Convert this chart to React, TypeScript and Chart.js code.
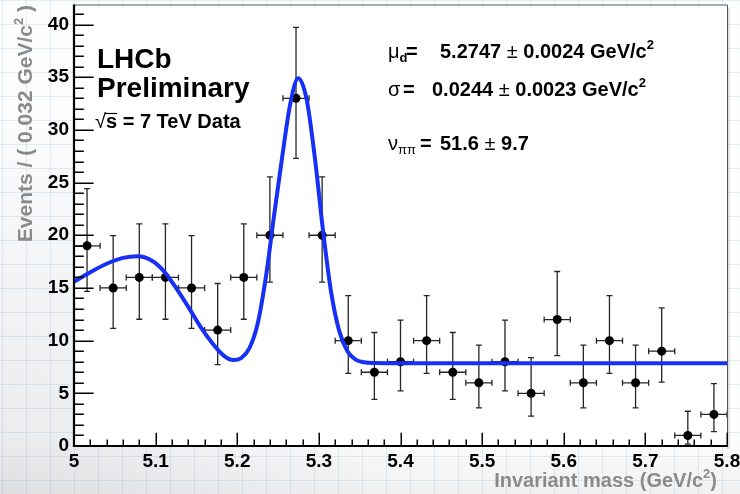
import React, { useEffect, useRef } from 'react';
import { Chart, registerables } from 'chart.js';

Chart.register(...registerables);

// ---------------- data ----------------
const binCenters = [5.016, 5.048, 5.080, 5.112, 5.144, 5.176, 5.208, 5.240, 5.272, 5.304, 5.336, 5.368, 5.400, 5.432, 5.464, 5.496, 5.528, 5.560, 5.592, 5.624, 5.656, 5.688, 5.720, 5.752, 5.784];
const binHalfWidth = 0.016;
const counts = [19, 15, 16, 16, 15, 11, 16, 20, 33, 20, 10, 7, 8, 10, 7, 6, 8, 5, 12, 6, 10, 6, 9, 1, 3];
const errLow = [4.33, 3.84, 3.97, 3.97, 3.84, 3.27, 3.97, 4.45, 5.71, 4.45, 3.11, 2.58, 2.77, 3.11, 2.58, 2.38, 2.77, 2.16, 3.42, 2.38, 3.11, 2.38, 2.94, 0.83, 1.63];
const errHigh = [5.43, 4.96, 5.08, 5.08, 4.96, 4.42, 5.08, 5.55, 6.73, 5.55, 4.27, 3.77, 3.95, 4.27, 3.77, 3.58, 3.95, 3.38, 4.56, 3.58, 4.27, 3.58, 4.11, 2.30, 2.92];

const fitMass = [5.000, 5.020, 5.040, 5.060, 5.078, 5.095, 5.110, 5.125, 5.140, 5.155, 5.170, 5.183, 5.195, 5.205, 5.215, 5.225, 5.235, 5.245, 5.255, 5.265, 5.2747, 5.285, 5.295, 5.305, 5.315, 5.325, 5.335, 5.345, 5.355, 5.370, 5.400, 5.800];
const fitValue = [15.6, 16.5, 17.3, 17.85, 18.0, 17.6, 16.6, 15.0, 13.2, 11.3, 9.7, 8.6, 8.15, 8.35, 9.3, 11.6, 16.0, 21.8, 27.4, 32.5, 34.9, 32.9, 27.4, 20.5, 14.6, 10.9, 9.0, 8.2, 7.95, 7.87, 7.85, 7.85];

const xTicks = [5, 5.1, 5.2, 5.3, 5.4, 5.5, 5.6, 5.7, 5.8];
const xTickLabels = ['5', '5.1', '5.2', '5.3', '5.4', '5.5', '5.6', '5.7', '5.8'];
const yTicks = [0, 5, 10, 15, 20, 25, 30, 35, 40];
const yTickLabels = ['0', '5', '10', '15', '20', '25', '30', '35', '40'];
const xMin = 5, xMax = 5.8, yMin = 0, yMax = 41.9;

// ---------------- helpers ----------------
const FAMILY = '"Liberation Sans", Arial, Helvetica, sans-serif';
const fnt = (size: number, bold: boolean) => `${bold ? 'bold ' : ''}${size}px ${FAMILY}`;

type Seg = { t: string; s: number; b?: boolean; dy?: number; x?: number };

function segWidth(ctx: CanvasRenderingContext2D, segs: Seg[]) {
  let w = 0;
  for (const sg of segs) {
    ctx.font = fnt(sg.s, !!sg.b);
    w += ctx.measureText(sg.t).width;
  }
  return w;
}

function drawSegs(ctx: CanvasRenderingContext2D, x0: number, y: number, segs: Seg[]) {
  let x = x0;
  for (const sg of segs) {
    if (sg.x !== undefined) x = sg.x;
    ctx.font = fnt(sg.s, !!sg.b);
    ctx.fillText(sg.t, x, y + (sg.dy || 0));
    x += ctx.measureText(sg.t).width;
  }
  return x;
}

const framePlugin = {
  id: 'rootFrame',
  beforeDraw(chart: any) {
    const { ctx, chartArea: a } = chart;
    ctx.save();
    ctx.fillStyle = 'rgba(0,0,0,0.10)';
    ctx.fillRect(a.right, a.top + 3, 3, a.bottom - a.top);
    ctx.fillStyle = '#ffffff';
    ctx.fillRect(a.left, a.top, a.right - a.left, a.bottom - a.top);
    ctx.restore();
  },
  beforeDatasetsDraw(chart: any) {
    const { ctx } = chart;
    const xs = chart.scales.x, ys = chart.scales.y;
    ctx.save();
    ctx.strokeStyle = '#262626';
    ctx.lineWidth = 1.3;
    const cap = 3;
    for (let i = 0; i < binCenters.length; i++) {
      const px = xs.getPixelForValue(binCenters[i]);
      const py = ys.getPixelForValue(counts[i]);
      const xl = xs.getPixelForValue(binCenters[i] - binHalfWidth);
      const xr = xs.getPixelForValue(binCenters[i] + binHalfWidth);
      const yt = ys.getPixelForValue(counts[i] + errHigh[i]);
      const yb = ys.getPixelForValue(counts[i] - errLow[i]);
      ctx.beginPath();
      ctx.moveTo(xl, py); ctx.lineTo(xr, py);
      ctx.moveTo(xl, py - cap); ctx.lineTo(xl, py + cap);
      ctx.moveTo(xr, py - cap); ctx.lineTo(xr, py + cap);
      ctx.moveTo(px, yt); ctx.lineTo(px, yb);
      ctx.moveTo(px - cap, yt); ctx.lineTo(px + cap, yt);
      ctx.moveTo(px - cap, yb); ctx.lineTo(px + cap, yb);
      ctx.stroke();
    }
    ctx.restore();
  },
  afterDraw(chart: any) {
    const { ctx, chartArea: a } = chart;
    const xs = chart.scales.x, ys = chart.scales.y;
    ctx.save();
    ctx.strokeStyle = '#555';
    ctx.lineWidth = 1;
    ctx.beginPath();
    ctx.moveTo(a.left, a.top + 0.5); ctx.lineTo(a.right + 0.5, a.top + 0.5);
    ctx.lineTo(a.right + 0.5, a.bottom);
    ctx.stroke();
    ctx.strokeStyle = '#000';
    ctx.lineWidth = 1.5;
    ctx.beginPath();
    const h = a.bottom - a.top, w = a.right - a.left;
    const yMaj = 0.03 * w, xMaj = 0.03 * h;
    for (let v = 0; v <= 41; v += 1) {
      const py = Math.round(ys.getPixelForValue(v)) + 0.25;
      const len = v % 5 === 0 ? yMaj : yMaj / 2;
      ctx.moveTo(a.left, py); ctx.lineTo(a.left + len, py);
    }
    for (let k = 0; k <= 40; k++) {
      const v = xMin + k * 0.02;
      const px = Math.round(xs.getPixelForValue(v)) + 0.25;
      const len = k % 5 === 0 ? xMaj : xMaj / 2;
      ctx.moveTo(px, a.bottom); ctx.lineTo(px, a.bottom - len);
    }
    ctx.stroke();
    ctx.lineWidth = 2.2;
    ctx.beginPath();
    ctx.moveTo(a.left, a.top); ctx.lineTo(a.left, a.bottom); ctx.lineTo(a.right + 1, a.bottom);
    ctx.stroke();

    ctx.fillStyle = '#000';
    ctx.textBaseline = 'alphabetic';
    ctx.textAlign = 'left';
    ctx.font = fnt(28, true);
    ctx.fillText('LHCb', 97, 68);
    ctx.fillText('Preliminary', 97, 97);
    ctx.font = fnt(20, false);
    ctx.fillText('\u221A', 95, 128);
    const rw = ctx.measureText('\u221A').width;
    ctx.font = fnt(20, true);
    const sw = ctx.measureText('s').width;
    ctx.lineWidth = 1.2;
    ctx.beginPath();
    ctx.moveTo(95 + rw - 1, 113.5); ctx.lineTo(95 + rw + sw, 113.5);
    ctx.stroke();
    drawSegs(ctx, 95 + rw, 128, [{ t: 's = 7 TeV Data', s: 20, b: true }]);

    drawSegs(ctx, 388, 58, [
      { t: '\u03BC', s: 20 },
      { t: 'd', s: 13, b: true, dy: 4 },
      { t: '=', s: 20, b: true, x: 406 },
      { t: '5.2747 ', s: 20, b: true, x: 440 },
      { t: '\u00B1', s: 20 },
      { t: ' 0.0024 GeV/c', s: 20, b: true },
      { t: '2', s: 13, b: true, dy: -9 },
    ]);
    drawSegs(ctx, 388, 96, [
      { t: '\u03C3', s: 20 },
      { t: '=', s: 20, b: true, x: 403 },
      { t: '0.0244 ', s: 20, b: true, x: 432 },
      { t: '\u00B1', s: 20 },
      { t: ' 0.0023 GeV/c', s: 20, b: true },
      { t: '2', s: 13, b: true, dy: -9 },
    ]);
    drawSegs(ctx, 388, 150, [
      { t: '\u03BD', s: 20 },
      { t: '\u03C0\u03C0', s: 13, dy: 4, x: 398 },
      { t: '=', s: 20, b: true, x: 420 },
      { t: '51.6 ', s: 20, b: true, x: 440 },
      { t: '\u00B1', s: 20 },
      { t: ' 9.7', s: 20, b: true },
    ]);

    ctx.fillStyle = '#8a8a8a';
    const xt: Seg[] = [
      { t: 'Invariant mass (GeV/c', s: 20, b: true },
      { t: '2', s: 13, b: true, dy: -9 },
      { t: ')', s: 20, b: true },
    ];
    const xw = segWidth(ctx, xt);
    drawSegs(ctx, 717 - xw, 487, xt);

    const yt: Seg[] = [
      { t: 'Events / ( 0.032 GeV/c', s: 21, b: true },
      { t: '2', s: 13, b: true, dy: -9 },
      { t: ' )', s: 21, b: true },
    ];
    const yw = segWidth(ctx, yt);
    ctx.translate(32, 0);
    ctx.rotate(-Math.PI / 2);
    drawSegs(ctx, -5 - yw, 0, yt);
    ctx.restore();
  },
};

export default function App() {
  const ref = useRef<HTMLCanvasElement>(null);
  useEffect(() => {
    const points = binCenters.map((x, i) => ({ x, y: counts[i] }));
    const curve = fitMass.map((x, i) => ({ x, y: fitValue[i] }));
    const chart = new Chart(ref.current as HTMLCanvasElement, {
      type: 'scatter',
      data: {
        datasets: [
          {
            type: 'line',
            label: 'fit',
            data: curve,
            borderColor: 'rgb(22,48,245)',
            borderWidth: 4,
            pointRadius: 0,
            fill: false,
            cubicInterpolationMode: 'monotone',
          } as any,
          {
            label: 'data',
            data: points,
            pointRadius: 4.5,
            pointBackgroundColor: '#000',
            pointBorderWidth: 0,
            showLine: false,
          } as any,
        ],
      },
      options: {
        animation: false,
        responsive: false,
        events: [],
        layout: { padding: { top: 3, right: 13, left: 0, bottom: 0 } },
        plugins: { legend: { display: false }, tooltip: { enabled: false } },
        scales: {
          x: {
            type: 'linear',
            min: xMin,
            max: xMax,
            grid: { display: false, drawTicks: false },
            border: { display: false },
            afterBuildTicks: (s: any) => { s.ticks = xTicks.map((v) => ({ value: v })); },
            afterFit: (s: any) => { s.height = 48; s.paddingLeft = 0; s.paddingRight = 0; },
            ticks: {
              autoSkip: false,
              maxRotation: 0,
              padding: 4,
              color: '#000',
              font: { family: FAMILY, size: 19, weight: 'bold' },
              callback: (_v: any, i: number) => xTickLabels[i],
            },
          },
          y: {
            type: 'linear',
            min: yMin,
            max: yMax,
            grid: { display: false, drawTicks: false },
            border: { display: false },
            afterBuildTicks: (s: any) => { s.ticks = yTicks.map((v) => ({ value: v })); },
            afterFit: (s: any) => { s.width = 74; s.paddingTop = 0; s.paddingBottom = 0; },
            ticks: {
              autoSkip: false,
              padding: 5,
              color: '#000',
              font: { family: FAMILY, size: 19, weight: 'bold' },
              callback: (_v: any, i: number) => yTickLabels[i],
            },
          },
        },
      } as any,
      plugins: [framePlugin as any],
    });
    return () => chart.destroy();
  }, []);

  const bg = {
    position: 'absolute' as const,
    left: 0,
    top: 0,
    width: 740,
    height: 494,
    backgroundColor: '#fdfdfe',
    backgroundImage: [
      'radial-gradient(circle at 0% 100%, rgba(120,130,140,0.16), rgba(120,130,140,0) 45%)',
      'linear-gradient(to bottom, rgba(150,150,150,0) 88%, rgba(150,150,150,0.12) 100%)',
      'linear-gradient(rgba(165,200,225,0.32) 1px, transparent 1px)',
      'linear-gradient(90deg, rgba(165,200,225,0.32) 1px, transparent 1px)',
    ].join(','),
    backgroundSize: '100% 100%, 100% 100%, 24px 24px, 24px 24px',
    backgroundPosition: '0 0, 0 0, 2px 0, 2px 0',
  };

  return (
    <div style={bg}>
      <canvas ref={ref} width={740} height={494} style={{ display: 'block', width: 740, height: 494 }} />
    </div>
  );
}
